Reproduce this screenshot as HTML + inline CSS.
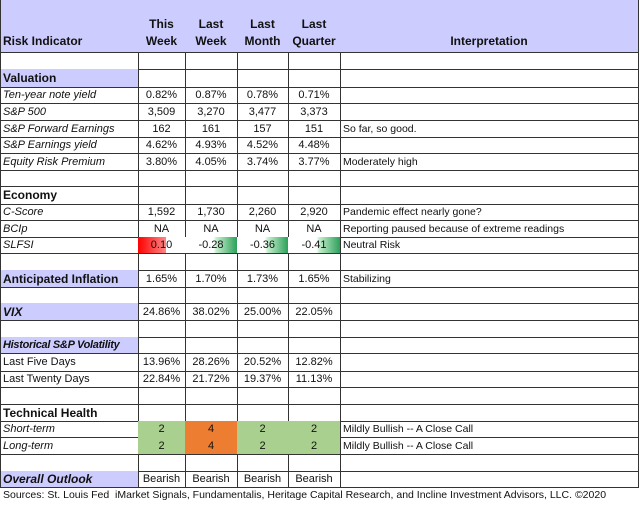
<!DOCTYPE html>
<html><head><meta charset="utf-8">
<style>
body{margin:0;background:#fff;width:640px;height:505px;overflow:hidden;font-family:"Liberation Sans",sans-serif;}
#wrap{position:relative;width:640px;height:505px;}
.c{position:absolute;box-sizing:border-box;border-right:1px solid #333;border-bottom:1px solid #333;font-size:11px;color:#111;display:flex;align-items:center;white-space:nowrap;overflow:hidden;}
.num{justify-content:center;}
.lab{padding-left:3px;}
.it{font-style:italic;}
.b{font-weight:bold;font-size:12px;}
.lav{background:#ccccff;}
.hdr{background:#ccccff;font-weight:bold;font-size:12px;justify-content:center;align-items:flex-end;text-align:center;padding-bottom:2px;line-height:17px;}
.green{background:#a9d08e;}
.orange{background:#ed7d31;}
#src{position:absolute;left:3px;top:489px;font-size:10.5px;color:#111;}
</style></head><body>
<div id="wrap"></div>
<div id="src">Sources: St. Louis Fed&nbsp; iMarket Signals, Fundamentalis, Heritage Capital Research, and Incline Investment Advisors, LLC. ©2020</div>
<script>
const colX=[0,138,185,237,288,340,638];
const rowY=[0,52,69,87,103,120,137,153,170,186,204,220,237,253,270,287,303,320,337,353,371,387,404,421,437,454,471,487];
const headers=["Risk Indicator","This<br>Week","Last<br>Week","Last<br>Month","Last<br>Quarter","Interpretation"];
// [label, style, values, interpretation]
const rows=[
["","",null,""],
["Valuation","b lav",null,""],
["Ten-year note yield","it",["0.82%","0.87%","0.78%","0.71%"],""],
["S&amp;P 500","it",["3,509","3,270","3,477","3,373"],""],
["S&amp;P Forward Earnings","it",["162","161","157","151"],"So far, so good."],
["S&amp;P Earnings yield","it",["4.62%","4.93%","4.52%","4.48%"],""],
["Equity Risk Premium","it",["3.80%","4.05%","3.74%","3.77%"],"Moderately high"],
["","",null,""],
["Economy","b",null,""],
["C-Score","it",["1,592","1,730","2,260","2,920"],"Pandemic effect nearly gone?"],
["BCIp","it",["NA","NA","NA","NA"],"Reporting paused because of extreme readings"],
["SLFSI","it",["0.10","-0.28","-0.36","-0.41"],"Neutral Risk"],
["","",null,""],
["Anticipated Inflation","b lav",["1.65%","1.70%","1.73%","1.65%"],"Stabilizing"],
["","",null,""],
["VIX","b it lav",["24.86%","38.02%","25.00%","22.05%"],""],
["","",null,""],
["Historical S&amp;P Volatility","b it lav",null,""],
["Last Five Days","",["13.96%","28.26%","20.52%","12.82%"],""],
["Last Twenty Days","",["22.84%","21.72%","19.37%","11.13%"],""],
["","",null,""],
["Technical Health","b",null,""],
["Short-term","it",["2","4","2","2"],"Mildly Bullish -- A Close Call"],
["Long-term","it",["2","4","2","2"],"Mildly Bullish -- A Close Call"],
["","",null,""],
["Overall Outlook","b it lav",["Bearish","Bearish","Bearish","Bearish"],""]
];
const slfsi=[0.10,-0.28,-0.36,-0.41];
const wrap=document.getElementById('wrap');
function cell(x0,x1,y0,y1,cls,html){
  const d=document.createElement('div');
  d.className='c '+cls;
  d.style.left=x0+'px';d.style.top=y0+'px';d.style.width=(x1-x0+1)+'px';d.style.height=(y1-y0+1)+'px';
  d.innerHTML=html;wrap.appendChild(d);return d;
}
for(let i=0;i<6;i++){
  const d=cell(colX[i],colX[i+1],rowY[0],rowY[1],'hdr'+(i===0?' lab':''),headers[i]);
  if(i===0){d.style.justifyContent='flex-start';d.style.textAlign='left';}
  
  
}
rows.forEach((r,ri)=>{
  const y0=rowY[ri+1],y1=rowY[ri+2];
  const l=cell(colX[0],colX[1],y0,y1,'lab '+r[1],r[0]);
  if(r[0].indexOf('Historical')===0){l.style.fontSize='11px';l.style.letterSpacing='-0.3px';}
  
  
  for(let j=0;j<4;j++){
    let cls='num',v=r[2]?r[2][j]:'';
    if(r[0]==='Short-term'||r[0]==='Long-term') cls+= (v==='4'?' orange':' green');
    const d=cell(colX[j+1],colX[j+2],y0,y1,cls,v);
    if(r[0]==='SLFSI'){
      const s=slfsi[j];
      d.style.background=s>0?'linear-gradient(90deg,#f00 0%,#f88 60%,#fff 60%)':'linear-gradient(90deg,#fff 55%,#c6efce 60%,#2ca05a 100%)';
    }
    
    
  }
  const t=cell(colX[5],colX[6],y0,y1,'lab',r[3]);
  t.style.fontSize='10.5px';
  
  
});
const lb=document.createElement('div');
lb.style.cssText='position:absolute;left:0;top:0;width:1px;height:488px;background:#333';


wrap.appendChild(lb);
</script>
</body></html>
